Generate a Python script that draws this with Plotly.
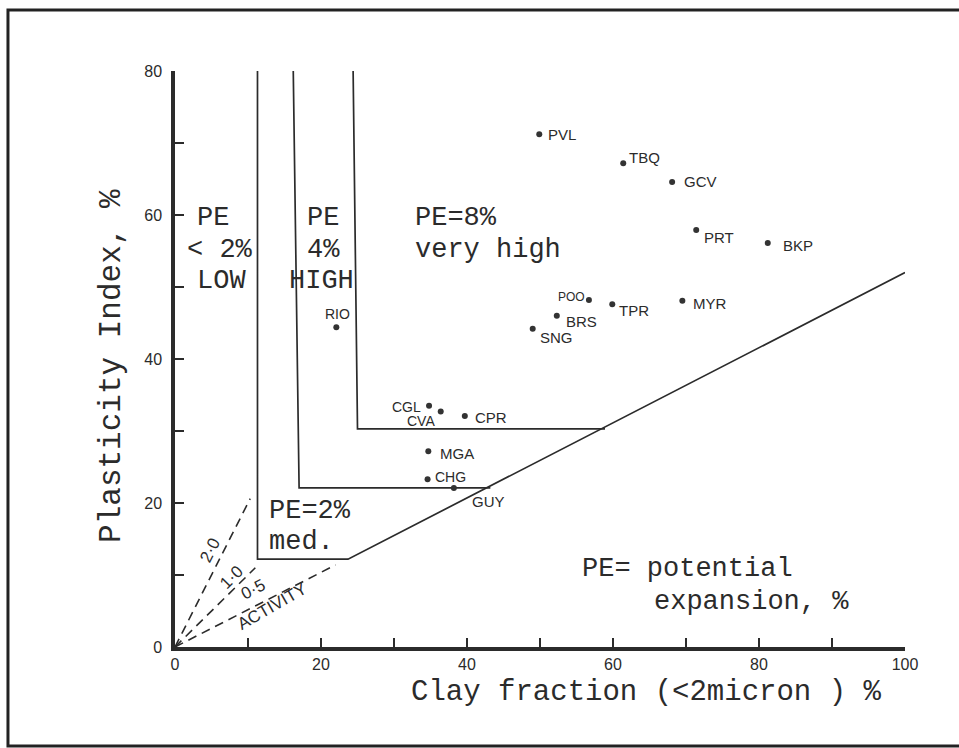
import plotly.graph_objects as go

# ---- sample sites: clay fraction (<2 micron, %) and plasticity index (%) ----
sites = ["PVL", "TBQ", "GCV", "PRT", "BKP", "POO", "TPR", "MYR", "BRS",
         "SNG", "RIO", "CGL", "CVA", "CPR", "MGA", "CHG", "GUY"]
clay_fraction = [49.9, 61.4, 68.1, 71.4, 81.2, 56.7, 59.9, 69.5, 52.3,
                 49.0, 22.1, 34.8, 36.4, 39.7, 34.7, 34.6, 38.2]
plasticity_index = [71.2, 67.2, 64.6, 57.9, 56.1, 48.2, 47.6, 48.1, 46.0,
                    44.2, 44.4, 33.5, 32.7, 32.1, 27.2, 23.3, 22.1]

# ---- potential-expansion zone boundaries (clay %, PI %) ----
zone_med_x = [11.3, 11.3, 23.7, 100.0]
zone_med_y = [80.0, 12.2, 12.2, 52.0]
zone_high_x = [16.2, 17.0, 43.2]
zone_high_y = [80.0, 22.1, 22.1]
zone_vhigh_x = [24.4, 25.0, 58.9]
zone_vhigh_y = [80.0, 30.3, 30.3]

# ---- activity reference lines through the origin ----
activity_names = ["2·0", "1·0", "0·5"]
activity_end_x = [10.3, 11.0, 22.0]
activity_end_y = [20.6, 11.0, 11.4]

# ---- axis ticks ----
x_tickvals = list(range(0, 101, 10))
x_ticktext = ["0", "", "20", "", "40", "", "60", "", "80", "", "100"]
y_tickvals = list(range(0, 81, 10))
y_ticktext = ["0", "", "20", "", "40", "", "60", "", "80"]

INK = "#2b2b2b"
MONO = "Courier New, Liberation Mono, monospace"
HAND = "Liberation Sans, Arial, sans-serif"

fig = go.Figure()

for xs, ys in [(zone_med_x, zone_med_y), (zone_high_x, zone_high_y),
               (zone_vhigh_x, zone_vhigh_y)]:
    fig.add_trace(go.Scatter(x=xs, y=ys, mode="lines",
                             line=dict(color=INK, width=1.7),
                             hoverinfo="skip", showlegend=False))

for ex, ey in zip(activity_end_x, activity_end_y):
    fig.add_trace(go.Scatter(x=[0, ex], y=[0, ey], mode="lines",
                             line=dict(color=INK, width=1.6, dash="9px,6px"),
                             hoverinfo="skip", showlegend=False))

fig.add_trace(go.Scatter(x=clay_fraction, y=plasticity_index, mode="markers",
                         marker=dict(color="#333333", size=6),
                         text=sites, showlegend=False))

# site label placement: (x shift px, y shift px downward, anchor, font size)
label_style = {
    "PVL": (7, 0, "left", 15), "TBQ": (4, -6, "left", 15),
    "GCV": (10, 0, "left", 15), "PRT": (6, 7, "left", 15),
    "BKP": (13, 2, "left", 15), "POO": (-2, -3, "right", 12),
    "TPR": (5, 6, "left", 15), "MYR": (9, 3, "left", 15),
    "BRS": (7, 6, "left", 15), "SNG": (5, 9, "left", 15),
    "RIO": (1, -13, "center", 14), "CGL": (-6, 1, "right", 14),
    "CVA": (-4, 9, "right", 14), "CPR": (8, 2, "left", 15),
    "MGA": (10, 2, "left", 15), "CHG": (5, -2, "left", 14),
    "GUY": (16, 14, "left", 15),
}
for name, cx, py in zip(sites, clay_fraction, plasticity_index):
    dx, dy, anchor, size = label_style[name]
    fig.add_annotation(x=cx, y=py, text=name, showarrow=False,
                       xanchor=anchor, yanchor="middle", xshift=dx, yshift=-dy,
                       font=dict(family=HAND, size=size, color=INK))

# zone descriptions, one line each: (text, x, y) at the left edge of the line
zone_lines = [
    ("PE", 2.74, 59.6), ("< 2%", 1.37, 55.1), ("LOW", 2.74, 50.8),
    ("PE", 17.8, 59.6), ("4%", 17.8, 55.1), ("HIGH", 15.3, 50.8),
    ("PE=8%", 32.6, 59.6), ("very high", 32.6, 55.2),
    ("PE=2%", 12.6, 18.9), ("med.", 12.6, 14.6),
    ("PE= potential", 55.5, 10.8), ("expansion, %", 65.3, 6.3),
]
for txt, tx, ty in zone_lines:
    fig.add_annotation(x=tx, y=ty, text=txt, showarrow=False,
                       xanchor="left", yanchor="middle",
                       font=dict(family=MONO, size=27, color=INK))

# activity labels along the dashed lines
activity_labels = [
    (activity_names[0], 4.8, 13.4, -63),
    (activity_names[1], 7.7, 9.7, -45),
    (activity_names[2], 10.7, 8.0, -27),
    ("ACTIVITY", 13.3, 5.6, -30),
]
for txt, tx, ty, ang in activity_labels:
    fig.add_annotation(x=tx, y=ty, text=txt, showarrow=False, textangle=ang,
                       font=dict(family=HAND, size=17, color=INK))

# axis titles
fig.add_annotation(xref="paper", yref="paper", x=0.645, y=-0.079,
                   text="Clay fraction (<2micron ) %", showarrow=False,
                   xanchor="center", yanchor="middle",
                   font=dict(family=MONO, size=29, color=INK))
fig.add_annotation(xref="paper", yref="paper", x=-0.0863, y=0.488,
                   text="Plasticity Index, %", showarrow=False, textangle=-90,
                   xanchor="center", yanchor="middle",
                   font=dict(family=MONO, size=31, color=INK))

# page frame
fig.add_shape(type="rect", xref="paper", yref="paper",
              x0=-0.2288, x1=1.09, y0=-0.1719, y1=1.106,
              line=dict(color="#222222", width=3), layer="below")

axis_common = dict(showline=True, linewidth=3.5, linecolor=INK,
                   ticks="inside", ticklen=9, tickwidth=2, tickcolor=INK,
                   showgrid=False, zeroline=False,
                   tickfont=dict(family=HAND, size=16, color=INK))
fig.update_xaxes(range=[0, 100], tickvals=x_tickvals, ticktext=x_ticktext,
                 ticklabelstandoff=0, **axis_common)
fig.update_yaxes(range=[0, 80], tickvals=y_tickvals, ticktext=y_ticktext,
                 ticklabelstandoff=6, **axis_common)

fig.update_layout(width=959, height=748,
                  margin=dict(l=175, r=54, t=71, b=101),
                  paper_bgcolor="white", plot_bgcolor="white",
                  showlegend=False)

fig.write_html("out.html")
